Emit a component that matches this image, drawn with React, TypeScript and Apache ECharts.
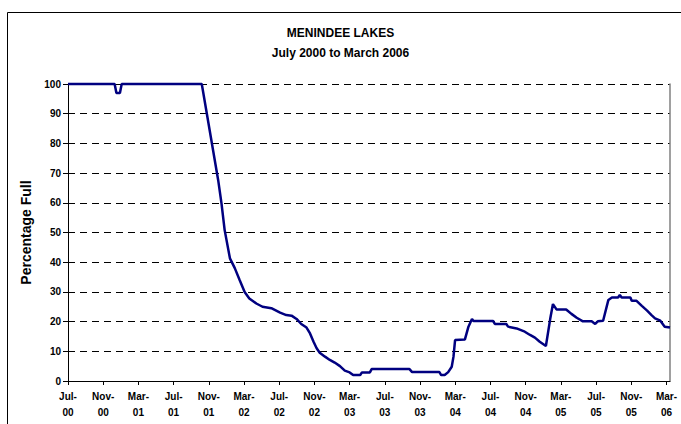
import React, { useEffect, useRef } from "react";
import * as echarts from "echarts";

// months since July 2000
const months = [
  0, 5.3, 5.5, 5.9, 6.1, 15.2, 17.06, 17.44, 17.8, 18.4, 18.95, 19.5, 20.07, 20.6, 21.4, 22.1, 23.1,
  24.1, 24.8, 25.4, 25.97, 26.5, 27.1, 27.5, 27.9, 28.25, 28.6, 29.2, 29.75, 30.3, 30.9, 31.45, 32,
  32.4, 33.2, 33.4, 34.3, 34.5, 38.8, 39.1, 42.2, 42.4, 42.8, 43.2, 43.6, 43.8, 43.98, 45.1, 45.5,
  45.9, 46.07, 48.3, 48.5, 49.8, 50, 50.97, 51.9, 52.5, 53.05, 53.6, 54.3, 54.8, 55.1, 55.5, 56.6,
  57.2, 57.8, 58.5, 59.5, 59.9, 60.2, 60.8, 61.4, 61.8, 62.5, 62.7, 62.9, 63.9, 64.05, 64.6, 65.2,
  65.8, 66.3, 66.7, 67.3, 67.8, 68.4,
];
const percentFull = [
  100, 100, 97, 97, 100, 100, 67.7, 59.8, 50.8, 41.3, 38, 34, 30, 27.8, 26.1, 25, 24.5,
  23, 22.2, 22, 20.9, 19.2, 18, 16, 13.2, 11, 9.5, 8.2, 7.1, 6.2, 5, 3.5, 2.9,
  2, 2, 2.9, 2.9, 4, 4, 3, 3, 2, 2, 3, 4.8, 8.2, 13.8, 14, 18.3,
  20.9, 20.2, 20.2, 19.2, 19.2, 18.3, 17.7, 16.6, 15.5, 14.6, 13.2, 11.8, 21.1, 25.9, 24.1, 24.1,
  22.6, 21.3, 20.1, 20.1, 19.2, 20.1, 20.3, 27.3, 28.1, 28.1, 29, 28.1, 28.1, 27, 27, 25.3,
  23.7, 22.2, 21.1, 20.3, 18.3, 18,
];
const tickMonths = [0, 4, 8, 12, 16, 20, 24, 28, 32, 36, 40, 44, 48, 52, 56, 60, 64, 68];
const monthNames = ["Jan", "Feb", "Mar", "Apr", "May", "Jun", "Jul", "Aug", "Sep", "Oct", "Nov", "Dec"];
const titleText = "MENINDEE LAKES";
const subtitleText = "July 2000 to March 2006";
const yAxisName = "Percentage Full";

const FONT = "'Liberation Sans', Arial, sans-serif";
const NARROW = "'Liberation Sans Narrow', 'Arial Narrow', 'Liberation Sans', Arial, sans-serif";

function monthLabel(v: number): string {
  const idx = 6 + Math.round(v);
  const name = monthNames[idx % 12];
  const yy = String((Math.floor(idx / 12)) % 100).padStart(2, "0");
  return `${name}-\n${yy}`;
}

export default function App() {
  const ref = useRef<HTMLDivElement>(null);
  useEffect(() => {
    if (!ref.current) return;
    const chart = echarts.init(ref.current, null, { renderer: "svg" });
    const data = months.map((m, i) => [m, percentFull[i]]);
    chart.setOption({
      animation: false,
      backgroundColor: "#ffffff",
      title: {
        text: titleText,
        subtext: subtitleText,
        left: "center",
        top: 22,
        itemGap: 8,
        textStyle: { fontFamily: NARROW, fontSize: 12, fontWeight: "bold", color: "#000" },
        subtextStyle: { fontFamily: NARROW, fontSize: 12, fontWeight: "bold", color: "#000" },
      },
      graphic: [
        {
          type: "rect",
          shape: { x: 7.5, y: 12.5, width: 720, height: 500 },
          style: { fill: "none", stroke: "#000", lineWidth: 1 },
          silent: true,
        },
      ],
      grid: { left: 68, top: 84, right: 11, bottom: 43, containLabel: false },
      xAxis: {
        type: "value",
        min: 0,
        max: 68.4,
        splitLine: { show: false },
        axisLine: { show: true, lineStyle: { color: "#000", width: 1 } },
        axisTick: {
          show: true,
          customValues: tickMonths,
          length: 4,
          lineStyle: { color: "#000" },
        },
        axisLabel: {
          customValues: tickMonths,
          formatter: (v: number) => monthLabel(v),
          fontFamily: FONT,
          fontSize: 10,
          fontWeight: "bold",
          color: "#000",
          lineHeight: 16,
          margin: 7,
          align: "center",
        },
      },
      yAxis: [
        {
          type: "value",
          min: 0,
          max: 100,
          interval: 10,
          name: yAxisName,
          nameLocation: "middle",
          nameGap: 33,
          nameTextStyle: { fontFamily: FONT, fontSize: 14, fontWeight: "bold", color: "#000" },
          axisLine: { show: true, lineStyle: { color: "#000", width: 1 } },
          axisTick: { show: true, length: 5, lineStyle: { color: "#000" } },
          axisLabel: {
            fontFamily: FONT,
            fontSize: 10,
            fontWeight: "bold",
            color: "#000",
            margin: 7,
          },
          splitLine: {
            show: true,
            lineStyle: { color: "#000", type: [7, 5], width: 1 },
          },
        },
        {
          type: "value",
          position: "right",
          min: 0,
          max: 100,
          interval: 10,
          axisLine: { show: true, lineStyle: { color: "#808080", width: 1.5 } },
          axisTick: { show: false },
          axisLabel: { show: false },
          splitLine: { show: false },
        },
      ],
      series: [
        {
          type: "line",
          data,
          yAxisIndex: 0,
          showSymbol: false,
          symbol: "none",
          lineStyle: { color: "#000080", width: 2.5 },
          clip: false,
        },
      ],
    });
    return () => chart.dispose();
  }, []);
  return (
    <div
      ref={ref}
      style={{ position: "fixed", left: 0, top: 0, width: 681, height: 424 }}
    />
  );
}
